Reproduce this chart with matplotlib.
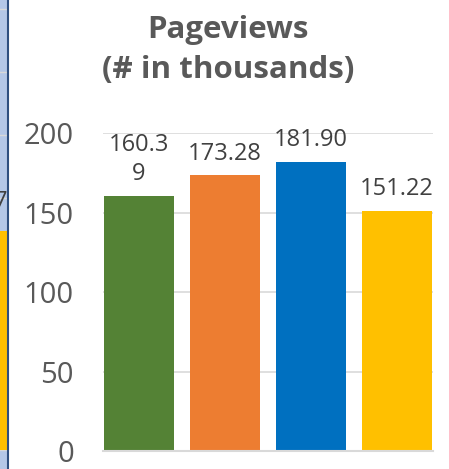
import matplotlib.pyplot as plt

plt.rcParams['font.family'] = ['Open Sans', 'DejaVu Sans']

# datos del grafico
categorias = ['A', 'B', 'C', 'D']
valores = [160.39, 173.28, 181.90, 151.22]
etiquetas = ['160.3\n9', '173.28', '181.90', '151.22']
colores = ['#548235', '#ED7D31', '#0070C0', '#FFC000']
ticks_y = [0, 50, 100, 150, 200]

# trozo del grafico vecino que se ve a la izquierda
vecino_valor = [3.48]

W, H = 449, 469
fig = plt.figure(figsize=(W / 100, H / 100), dpi=100)

# franja izquierda
ax0 = fig.add_axes([0, 0, 8 / W, 1])
ax0.set_facecolor('#B4C7E7')
ax0.set_ylim(-19 / 63, (H - 19) / 63)
ax0.set_xlim(-0.5, 0.5)
for k in range(0, 8):
    ax0.axhline(k, color='#D9D9D9', lw=1, zorder=0)
ax0.bar([0], vecino_valor, width=1.0, color='#FFC000', zorder=2)
ax0.text(0.45, 3.93, '7', ha='right', va='center', fontsize=17, color='#404040', clip_on=True)
for s in ['top', 'left', 'bottom']:
    ax0.spines[s].set_visible(False)
ax0.spines['right'].set_color('#2F4F7F')
ax0.spines['right'].set_linewidth(1.5)
ax0.set_xticks([])
ax0.set_yticks([])

# grafico principal
ax = fig.add_axes([103 / W, 18 / H, 330 / W, 318 / H])
x = range(len(categorias))
barras = ax.bar(x, valores, width=0.81, color=colores, zorder=2)
ax.set_xlim(-0.42, 3.42)
ax.set_ylim(0, 200)
ax.set_yticks(ticks_y)
ax.yaxis.grid(True, color='#D9D9D9', lw=1.2, zorder=0)
ax.set_axisbelow(True)
ax.set_xticks([])
for s in ['top', 'right', 'left']:
    ax.spines[s].set_visible(False)
ax.spines['bottom'].set_color('#D9D9D9')
ax.spines['bottom'].set_linewidth(1.5)
ax.tick_params(axis='y', length=0, labelsize=21, labelcolor='#595959', pad=21)

for b, v, t in zip(barras, valores, etiquetas):
    ax.annotate(t, (b.get_x() + b.get_width() / 2, v), xytext=(0, 7),
                textcoords='offset points', ha='center', va='bottom',
                fontsize=17, color='#404040', linespacing=1.3,
                annotation_clip=False)

fig.text(228 / W, 1 - 50 / H, 'Pageviews\n(# in thousands)', ha='center', va='center',
         fontsize=22.5, fontweight='bold', color='#595959', linespacing=1.4)

fig.savefig('out.png', dpi=100)
